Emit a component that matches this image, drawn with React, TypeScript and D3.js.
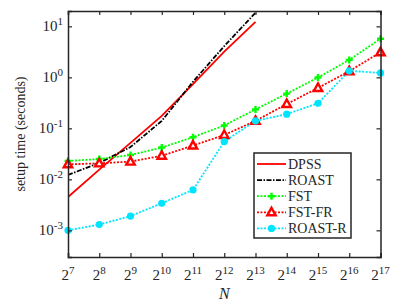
import React, { useEffect, useRef } from "react";
import * as d3 from "d3";

// exponents of N = 2^k
const exps = [7, 8, 9, 10, 11, 12, 13, 14, 15, 16, 17];
const yTicks = [-3, -2, -1, 0, 1];

// setup time (seconds)
const dpss = [0.0045, 0.0155, 0.052, 0.176, 0.74, 3.2, 12.2];
const roast = [0.0122, 0.021, 0.043, 0.14, 0.82, 4.1, 18.5];
const fst = [0.023, 0.025, 0.03, 0.042, 0.067, 0.114, 0.235, 0.48, 0.99, 2.2, 5.7];
const fstfr = [0.0197, 0.0206, 0.0223, 0.029, 0.046, 0.074, 0.14, 0.3, 0.62, 1.32, 3.1];
const roastr = [0.001, 0.0013, 0.0019, 0.0034, 0.0062, 0.055, 0.14, 0.19, 0.31, 1.34, 1.22];

const seriesNames = ["DPSS", "ROAST", "FST", "FST-FR", "ROAST-R"];

const W = 402, H = 301;
const margin = { top: 11, right: 21.5, bottom: 44, left: 68 };

export default function App() {
  const ref = useRef<SVGSVGElement>(null);

  useEffect(() => {
    const svg = d3.select(ref.current);
    svg.selectAll("*").remove();
    const w = W - margin.left - margin.right;
    const h = H - margin.top - margin.bottom;
    const g = svg.append("g").attr("transform", `translate(${margin.left},${margin.top})`);

    const x = d3.scaleLinear().domain([7, 17]).range([0, w]);
    const y = d3.scaleLog().domain([3e-4, 20]).range([h, 0]);

    const series = [
      { name: "DPSS", data: dpss, color: "#ff0000", dash: "", width: 1.8, marker: "none" },
      { name: "ROAST", data: roast, color: "#000000", dash: "5,1.5,1.5,1.5", width: 1.8, marker: "none" },
      { name: "FST", data: fst, color: "#00ff00", dash: "2,1.5", width: 1.8, marker: "plus" },
      { name: "FST-FR", data: fstfr, color: "#ff0000", dash: "2,1.5", width: 1.8, marker: "tri" },
      { name: "ROAST-R", data: roastr, color: "#00e5ff", dash: "2,1.5", width: 1.8, marker: "circle" },
    ];

    const line = d3.line<number>().x((d, i) => x(exps[i])).y(d => y(d));

    const drawMarker = (sel: any, type: string, color: string, cx: number, cy: number) => {
      if (type === "plus") {
        sel.append("path").attr("d", `M${cx - 3.5},${cy}H${cx + 3.5}M${cx},${cy - 3.5}V${cy + 3.5}`)
          .attr("stroke", color).attr("stroke-width", 2.4).attr("fill", "none");
      } else if (type === "tri") {
        sel.append("path").attr("d", `M${cx},${cy - 4.5}L${cx + 4.2},${cy + 3}L${cx - 4.2},${cy + 3}Z`)
          .attr("stroke", color).attr("stroke-width", 2.4).attr("fill", "white");
      } else if (type === "circle") {
        sel.append("circle").attr("cx", cx).attr("cy", cy).attr("r", 3.6).attr("fill", color);
      }
    };

    svg.append("defs").append("clipPath").attr("id", "plotclip")
      .append("rect").attr("x", 0).attr("y", 0).attr("width", w).attr("height", h);

    const plot = g.append("g").attr("clip-path", "url(#plotclip)");
    series.forEach(s => {
      plot.append("path").datum(s.data).attr("d", line)
        .attr("fill", "none").attr("stroke", s.color).attr("stroke-width", s.width)
        .attr("stroke-dasharray", s.dash || null);
    });
    series.forEach(s => {
      s.data.forEach((d, i) => drawMarker(g, s.marker, s.color, x(exps[i]), y(d)));
    });

    // axes, ticks pointing inward
    const axisColor = "#262626";
    const yVals = yTicks.map(e => Math.pow(10, e));
    const xb = g.append("g").attr("transform", `translate(0,${h})`)
      .call(d3.axisBottom(x).tickValues(exps).tickSize(-4).tickFormat(() => ""));
    const xt = g.append("g").call(d3.axisTop(x).tickValues(exps).tickSize(-4).tickFormat(() => ""));
    const yl = g.append("g").call(d3.axisLeft(y).tickValues(yVals).tickSize(-4).tickFormat(() => ""));
    const yr = g.append("g").attr("transform", `translate(${w},0)`)
      .call(d3.axisRight(y).tickValues(yVals).tickSize(-4).tickFormat(() => ""));
    [xb, xt, yl, yr].forEach(a => {
      a.select(".domain").attr("stroke", axisColor).attr("stroke-width", 1.5);
      a.selectAll(".tick line").attr("stroke", axisColor).attr("stroke-width", 1.2);
    });

    const txt = (sel: any) => sel.style("font-family", "Liberation Serif, DejaVu Serif, serif").attr("fill", "#262626");

    // x tick labels 2^k
    exps.forEach(k => {
      const t = txt(g.append("text")).attr("x", x(k)).attr("y", h + 23)
        .attr("text-anchor", "middle").style("font-size", "15px");
      t.append("tspan").text("2");
      t.append("tspan").attr("dy", -6).style("font-size", "11px").text(String(k));
    });
    // y tick labels 10^e
    yTicks.forEach(e => {
      const t = txt(g.append("text")).attr("x", -5).attr("y", y(Math.pow(10, e)) + 5)
        .attr("text-anchor", "end").style("font-size", "15px");
      t.append("tspan").text("10");
      t.append("tspan").attr("dy", -6).style("font-size", "11px").text(String(e));
    });

    txt(g.append("text")).attr("x", w / 2).attr("y", h + 42).attr("text-anchor", "middle")
      .style("font-style", "italic").style("font-size", "16px").text("N");
    txt(g.append("text")).attr("transform", `translate(${-43},${h / 2}) rotate(-90)`).attr("text-anchor", "middle")
      .style("font-size", "14px").text("setup time (seconds)");

    // legend
    const lg = svg.append("g").attr("transform", "translate(254,153)");
    lg.append("rect").attr("width", 97).attr("height", 85).attr("fill", "white")
      .attr("stroke", axisColor).attr("stroke-width", 1.5);
    series.forEach((s, i) => {
      const yy = 11 + i * 16.1;
      lg.append("line").attr("x1", 3).attr("x2", 32).attr("y1", yy).attr("y2", yy)
        .attr("stroke", s.color).attr("stroke-width", s.width).attr("stroke-dasharray", s.dash || null);
      drawMarker(lg, s.marker, s.color, 17.5, yy);
      txt(lg.append("text")).attr("x", 34).attr("y", yy + 5).style("font-size", "14px").text(seriesNames[i]);
    });
  }, []);

  return (
    <svg ref={ref} width={W} height={H}
      style={{ position: "absolute", left: 0, top: 0, background: "white" }} />
  );
}
